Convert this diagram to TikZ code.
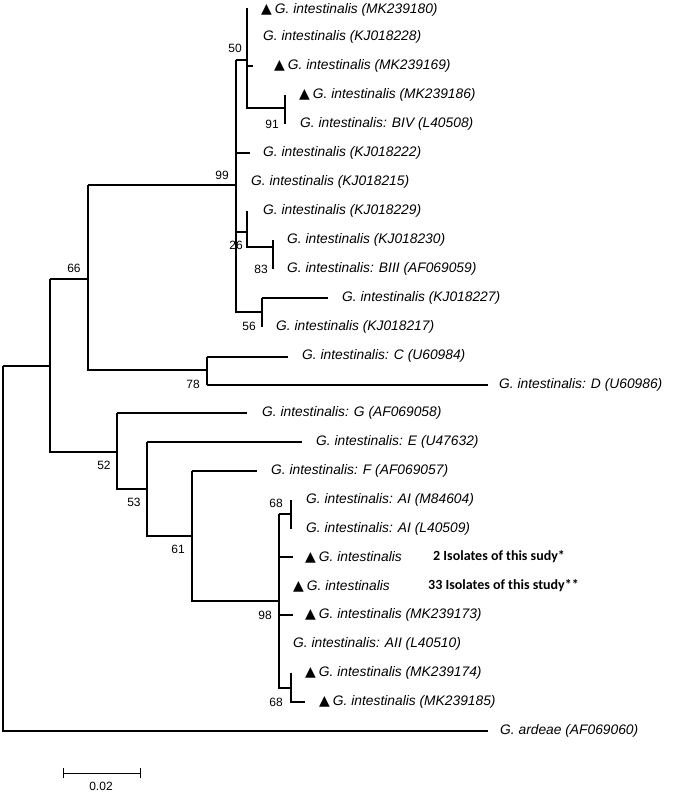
\documentclass[tikz,border=0pt]{standalone}
\usepackage{fontspec}
\setmainfont{Liberation Sans}
\newfontfamily\symf{DejaVu Sans}
\newfontfamily\boldf{Carlito}
\begin{document}
\begin{tikzpicture}[x=1pt,y=-1pt,
  br/.style={line width=1.6pt},
  lab/.style={anchor=west,inner sep=0pt,font=\fontsize{13.8}{14}\selectfont\itshape},
  bld/.style={anchor=west,inner sep=0pt,font=\boldf\bfseries\fontsize{14}{14}\selectfont},
  bs/.style={inner sep=0pt,font=\fontsize{12}{12}\selectfont}]
\useasboundingbox (0,0) rectangle (685,792);
\newcommand{\tri}{{\symf\upshape\fontsize{14}{14}\selectfont ▲}\hspace{3pt}}
% top clade
\draw[br] (247,8) -- (247,108) -- (285,108);
\draw[br] (285,95) -- (285,124);
\draw[br] (247,66) -- (253,66);
\draw[br] (236,60) -- (247,60);
\draw[br] (236,60) -- (236,312) -- (262,312);
\draw[br] (236,153) -- (250,153);
\draw[br] (236,232) -- (247,232);
\draw[br] (247,211) -- (247,247) -- (273,247);
\draw[br] (273,240) -- (273,269);
\draw[br] (262,298) -- (262,327);
\draw[br] (262,298) -- (328,298);
\draw[br] (88,185) -- (236,185);
\draw[br] (88,185) -- (88,370) -- (207,370);
\draw[br] (207,357) -- (207,385);
\draw[br] (207,357) -- (288,357);
\draw[br] (207,385) -- (488,385);
\draw[br] (50,279) -- (88,279);
\draw[br] (50,279) -- (50,452) -- (117,452);
\draw[br] (3,366) -- (50,366);
\draw[br] (3,366) -- (3,731) -- (488,731);
% bottom clade
\draw[br] (117,413) -- (247,413);
\draw[br] (117,413) -- (117,489) -- (147,489);
\draw[br] (147,442) -- (302,442);
\draw[br] (147,442) -- (147,536) -- (192,536);
\draw[br] (192,471) -- (257,471);
\draw[br] (192,471) -- (192,601) -- (279,601);
\draw[br] (279,514) -- (279,688) -- (291,688);
\draw[br] (279,514) -- (291,514);
\draw[br] (291,500) -- (291,529);
\draw[br] (279,557) -- (293,557);
\draw[br] (279,615) -- (293,615);
\draw[br] (291,673) -- (291,702) -- (305,702);
% labels
\node[lab] (l1) at (261,10) {\tri G. intestinalis (MK239180)};
\node[lab] (l2) at (263,37) {G. intestinalis (KJ018228)};
\node[lab] (l3) at (274,66) {\tri G. intestinalis (MK239169)};
\node[lab] (l4) at (299,95) {\tri G. intestinalis (MK239186)};
\node[lab] (l5) at (300,124) {G. intestinalis: BIV (L40508)};
\node[lab] (l6) at (263,153) {G. intestinalis (KJ018222)};
\node[lab] (l7) at (251,182) {G. intestinalis (KJ018215)};
\node[lab] (l8) at (263,211) {G. intestinalis (KJ018229)};
\node[lab] (l9) at (287,240) {G. intestinalis (KJ018230)};
\node[lab] (l10) at (287,269) {G. intestinalis: BIII (AF069059)};
\node[lab] (l11) at (342,298) {G. intestinalis (KJ018227)};
\node[lab] (l12) at (276,327) {G. intestinalis (KJ018217)};
\node[lab] (l13) at (302,356) {G. intestinalis: C (U60984)};
\node[lab] (l14) at (499,385) {G. intestinalis: D (U60986)};
\node[lab] (l15) at (262,413) {G. intestinalis: G (AF069058)};
\node[lab] (l16) at (316,442) {G. intestinalis: E (U47632)};
\node[lab] (l17) at (271,471) {G. intestinalis: F (AF069057)};
\node[lab] (l18) at (306,500) {G. intestinalis: AI (M84604)};
\node[lab] (l19) at (306,529) {G. intestinalis: AI (L40509)};
\node[lab] (l20) at (305,557) {\tri G. intestinalis};
\node[bld] (b20) at (433,557) {2 Isolates of this sudy*};
\node[lab] (l21) at (293,586) {\tri G. intestinalis};
\node[bld] (b21) at (428,586) {33 Isolates of this study**};
\node[lab] (l22) at (305,615) {\tri G. intestinalis (MK239173)};
\node[lab] (l23) at (293,644) {G. intestinalis: AII (L40510)};
\node[lab] (l24) at (305,673) {\tri G. intestinalis (MK239174)};
\node[lab] (l25) at (319,702) {\tri G. intestinalis (MK239185)};
\node[lab] (l26) at (500,731) {G. ardeae (AF069060)};
% bootstrap
\node[bs] (n50) at (235,48) {50};
\node[bs] (n99) at (222,175) {99};
\node[bs] (n66) at (74,268) {66};
\node[bs] (n91) at (272,124) {91};
\node[bs] (n26) at (236,245) {26};
\node[bs] (n83) at (261,269) {83};
\node[bs] (n56) at (249,326) {56};
\node[bs] (n78) at (193,384) {78};
\node[bs] (n52) at (104,465) {52};
\node[bs] (n53) at (134,502) {53};
\node[bs] (n61) at (178,549) {61};
\node[bs] (n68a) at (276,503) {68};
\node[bs] (n98) at (265,615) {98};
\node[bs] (n68b) at (276,702) {68};
% scale bar
\coordinate (s1) at (63,773);
\coordinate (s2) at (140,773);
\draw[line width=1pt] (s1) -- (s2);
\draw[line width=1pt] (63,768) -- (63,778);
\draw[line width=1pt] (140,768) -- (140,778);
\node[bs] (sc) at (101,786) {0.02};
\end{tikzpicture}
\end{document}
